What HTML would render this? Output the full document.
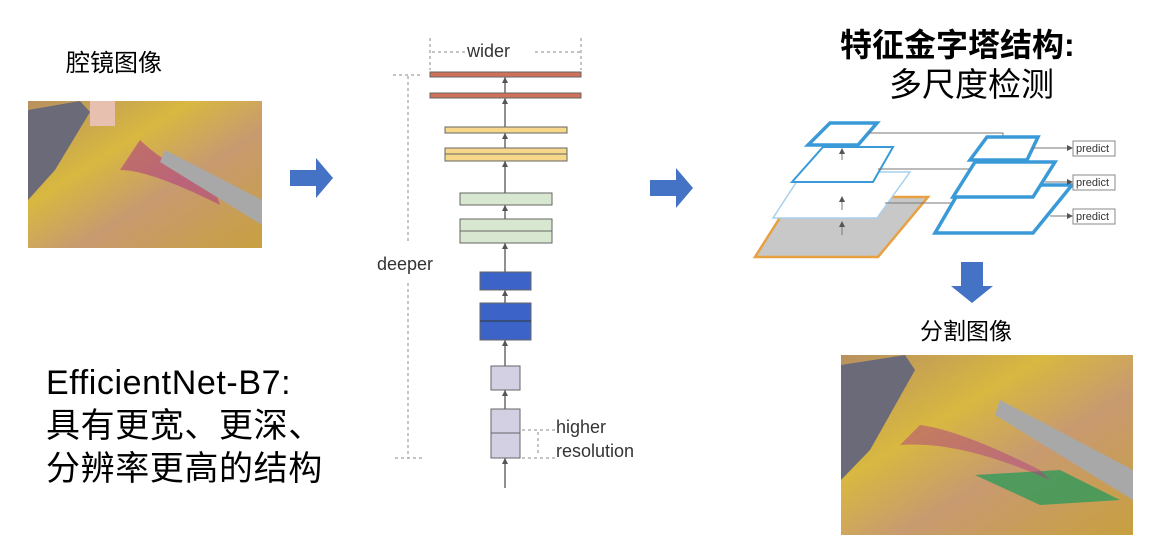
<!DOCTYPE html>
<html><head><meta charset="utf-8"><style>
body{margin:0;width:1154px;height:540px;background:#fff;overflow:hidden;position:relative;font-family:"Liberation Sans","Noto Sans CJK SC",sans-serif}
.t{position:absolute;white-space:nowrap;color:#000}
</style></head><body>
<div class="t" style="left:66px;top:43px;font-size:24px">腔镜图像</div>
<div class="t" style="left:46px;top:362px;font-size:34px;line-height:43px;letter-spacing:0.6px">EfficientNet-B7:<br>具有更宽、更深、<br>分辨率更高的结构</div>
<div class="t" style="left:840px;top:20px;font-size:32px;font-weight:bold">特征金字塔结构:</div>
<div class="t" style="left:889px;top:58px;font-size:33px">多尺度检测</div>
<div class="t" style="left:920px;top:312px;font-size:23px">分割图像</div>
<div class="t" style="left:1020px;top:508px;font-size:18px;color:#bbb">CSDN @言歆</div>

<svg width="1154" height="540" style="position:absolute;left:0;top:0">
<defs>
<linearGradient id="tis" x1="0" y1="0" x2="1" y2="1">
<stop offset="0" stop-color="#b89060"/><stop offset="0.35" stop-color="#d8b840"/><stop offset="0.6" stop-color="#c89a70"/><stop offset="1" stop-color="#c8a040"/></linearGradient>
<marker id="ar" markerWidth="6" markerHeight="6" refX="5" refY="3" orient="auto"><path d="M0,0L6,3L0,6z" fill="#555"/></marker>
</defs>
<rect x="28" y="101" width="234" height="147" fill="url(#tis)"/>
<path d="M28,110 L80,101 L90,112 L55,170 L28,200z" fill="#6a6a78"/>
<path d="M120,170 Q150,170 220,205 L215,190 Q160,160 140,140z" fill="#b04080" opacity="0.6"/>
<path d="M165,150 L262,200 L262,225 L160,162z" fill="#a8a8a8"/>
<rect x="90" y="101" width="25" height="25" fill="#e8c0b0"/>
<rect x="841" y="355" width="292" height="180" fill="url(#tis)"/>
<path d="M841,365 L905,355 L915,370 L870,450 L841,480z" fill="#6a6a78"/>
<path d="M1000,400 L1133,470 L1133,500 L995,415z" fill="#a8a8a8"/>
<path d="M975,475 L1060,470 L1120,500 L1040,505z" fill="#3a9a5a" opacity="0.85"/>
<path d="M900,445 Q960,440 1050,480 L1040,470 Q960,430 920,425z" fill="#b04080" opacity="0.5"/>
<path d="M290,170h26v-12l17,20l-17,20v-12h-26z" fill="#4472c4"/>
<path d="M650,180h26v-12l17,20l-17,20v-12h-26z" fill="#4472c4"/>
<path d="M961,262h22v24h10l-21,17l-21,-17h10z" fill="#4472c4"/>

<g stroke="#888" stroke-dasharray="3,3" fill="none">
<line x1="430" y1="38" x2="430" y2="70"/><line x1="581" y1="38" x2="581" y2="70"/>
<line x1="432" y1="52" x2="466" y2="52"/><line x1="535" y1="52" x2="580" y2="52"/>
<line x1="393" y1="75" x2="422" y2="75"/><line x1="408" y1="76" x2="408" y2="243"/>
<line x1="408" y1="283" x2="408" y2="458"/><line x1="395" y1="458" x2="425" y2="458"/>
<line x1="522" y1="430" x2="555" y2="430"/><line x1="522" y1="458" x2="555" y2="458"/>
<line x1="538" y1="432" x2="538" y2="456"/>
</g>
<line x1="505" y1="488" x2="505" y2="75" stroke="#555" stroke-width="1.3"/>
<g stroke="#666" stroke-width="1">
<rect x="430" y="72" width="151" height="5" fill="#d0705a"/>
<rect x="430" y="93" width="151" height="5" fill="#d0705a"/>
<rect x="445" y="127" width="122" height="6" fill="#f7d88a"/>
<rect x="445" y="148" width="122" height="13" fill="#f7d88a"/><line x1="445" y1="154" x2="567" y2="154"/>
<rect x="460" y="193" width="92" height="12" fill="#d8e8d0"/>
<rect x="460" y="219" width="92" height="24" fill="#d8e8d0"/><line x1="460" y1="231" x2="552" y2="231"/>
<rect x="480" y="272" width="51" height="18" fill="#3c64c8"/>
<rect x="480" y="303" width="51" height="37" fill="#3c64c8"/><line x1="480" y1="321" x2="531" y2="321" stroke="#333"/>
<rect x="491" y="366" width="29" height="24" fill="#d4d0e4"/>
<rect x="491" y="409" width="29" height="49" fill="#d4d0e4"/><line x1="491" y1="433" x2="520" y2="433"/>
</g>
<g fill="#555">
<path d="M502,83l3,-6l3,6z"/><path d="M502,104l3,-6l3,6z"/><path d="M502,139l3,-6l3,6z"/><path d="M502,167l3,-6l3,6z"/>
<path d="M502,211l3,-6l3,6z"/><path d="M502,249l3,-6l3,6z"/><path d="M502,296l3,-6l3,6z"/><path d="M502,346l3,-6l3,6z"/>
<path d="M502,396l3,-6l3,6z"/><path d="M502,464l3,-6l3,6z"/>
</g>
<g font-family="Liberation Sans,sans-serif" font-size="18" fill="#333">
<text x="467" y="57">wider</text><text x="377" y="270">deeper</text>
<text x="556" y="433">higher</text><text x="556" y="457">resolution</text>
</g>

<polygon points="793,197 928,197 878,257 755,257" fill="#c8c8c8" stroke="#e8a040" stroke-width="2.5"/>
<polygon points="803,172 910,172 877,218 773,218" fill="#fff" stroke="#a8d0ec" stroke-width="1.5"/>
<polygon points="823,147 893,147 873,182 792,182" fill="#fff" stroke="#3a9ad8" stroke-width="2"/>
<polygon points="830,123 877,123 858,145 808,145" fill="#fff" stroke="#3a9ad8" stroke-width="3.5"/>
<g stroke="#777" stroke-width="1" fill="none" marker-end="url(#ar)">
<path d="M868,133 H1003 V145"/><path d="M878,169 H998"/><path d="M885,203 H998"/>
<path d="M1003,162 V175"/><path d="M1003,197 V210"/>
<line x1="842" y1="235" x2="842" y2="222"/><line x1="842" y1="210" x2="842" y2="197"/><line x1="842" y1="160" x2="842" y2="149"/>
</g>
<polygon points="963,185 1072,185 1033,233 935,233" fill="#fff" stroke="#3a9ad8" stroke-width="3.5"/>
<polygon points="975,162 1055,162 1033,197 953,197" fill="#fff" stroke="#3a9ad8" stroke-width="3.5"/>
<polygon points="987,137 1038,137 1027,160 970,160" fill="#fff" stroke="#3a9ad8" stroke-width="3.5"/>
<g stroke="#777" stroke-width="1" fill="none" marker-end="url(#ar)">
<line x1="1032" y1="148" x2="1072" y2="148"/><line x1="1045" y1="182" x2="1072" y2="182"/><line x1="1050" y1="216" x2="1072" y2="216"/>
</g>
<g stroke="#888" fill="#fff"><rect x="1073" y="141" width="42" height="15"/><rect x="1073" y="175" width="42" height="15"/><rect x="1073" y="209" width="42" height="15"/></g>
<g font-family="Liberation Sans,sans-serif" font-size="11" fill="#333">
<text x="1076" y="152">predict</text><text x="1076" y="186">predict</text><text x="1076" y="220">predict</text></g>
</svg>
</body></html>
